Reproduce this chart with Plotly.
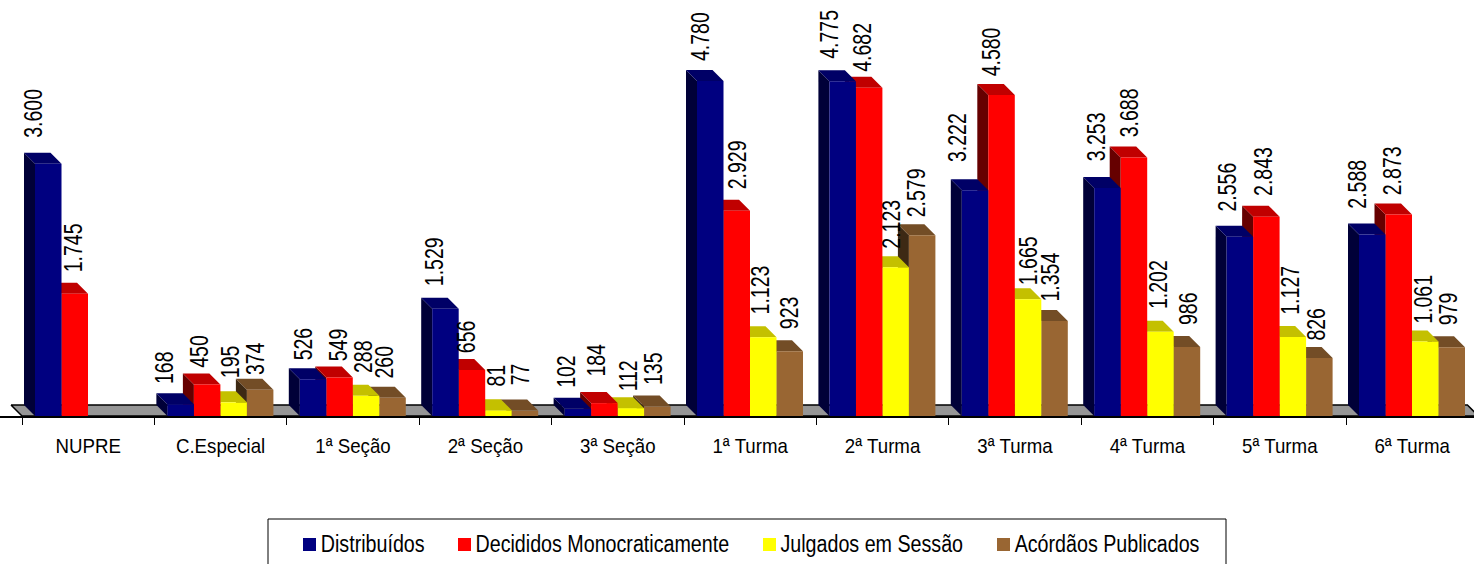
import plotly.graph_objects as go

categories = ['NUPRE', 'C.Especial', '1ª Seção', '2ª Seção', '3ª Seção', '1ª Turma',
              '2ª Turma', '3ª Turma', '4ª Turma', '5ª Turma', '6ª Turma']
distribuidos = [3600, 168, 526, 1529, 102, 4780, 4775, 3222, 3253, 2556, 2588]
decididos = [1745, 450, 549, 656, 184, 2929, 4682, 4580, 3688, 2843, 2873]
julgados = [None, 195, 288, 81, 112, 1123, 2123, 1665, 1202, 1127, 1061]
acordaos = [None, 374, 260, 77, 135, 923, 2579, 1354, 986, 826, 979]
series_names = ['Distribuídos', 'Decididos Monocraticamente', 'Julgados em Sessão', 'Acórdãos Publicados']

# label nudges in px, from the bar's front top left corner (placed by hand in the original)
label_dx = [[-2, 11, 0, 0], [-3, 6, 10, 8], [3, 11, 10, 4], [2, 7, 11, 8], [1, 5, 11, 8], [3, 13, 10, 13],
            [0, 6, 9, 7], [-5, 3, 13, 9], [2, 9, 11, 14], [0, 10, 10, 10], [-2, 6, 11, 10]]
label_dy = [[50, 46, 0, 0], [37, 33, 41, 31], [35, 33, 39, 36], [47, 33, 35, 36], [37, 43, 32, 38], [44, 46, 47, 38],
            [47, 41, 43, 43], [53, 43, 39, 44], [51, 45, 47, 38], [50, 45, 47, 34], [50, 44, 42, 38]]

W, H = 1474, 564
FONT = 'Liberation Sans, Arial, sans-serif'
PX_X = 132.4     # px per category
PX_Y = 0.0701    # px per value
AXIS_LEFT, AXIS_Y = 22, 416
DEPTH_X = 11 / PX_X
DEPTH_Y = 11 / PX_Y
BAR_W = 26.5 / PX_X
GROUP_PAD = 13 / PX_X

series = [distribuidos, decididos, julgados, acordaos]
# front, top, side
colors = [('#000080', '#000066', '#000038'),
          ('#ff0000', '#c00000', '#660000'),
          ('#ffff00', '#c4c000', '#666600'),
          ('#996633', '#734d26', '#3d2914')]

# the original text is horizontally squeezed: no narrow font here, so squeeze per font size
POST_SCRIPT = """
document.body.style.margin = '0';
var squeeze = {'25px': 0.78, '23px': 0.855, '21px': 0.89};
document.querySelectorAll('svg text').forEach(function (t) {
    var k = squeeze[t.style.fontSize];
    if (k && t.textContent) {
        t.setAttribute('textLength', t.getComputedTextLength() * k);
        t.setAttribute('lengthAdjust', 'spacingAndGlyphs');
    }
});
"""


def face(xs, ys, color):
    return go.Scatter(x=xs, y=ys, mode='lines', fill='toself', fillcolor=color,
                      line=dict(width=0, color=color), hoverinfo='skip', showlegend=False)


fig = go.Figure()

# floor of the 3D box
n = len(categories)
fig.add_trace(go.Scatter(x=[-DEPTH_X, 0, n, n - DEPTH_X, -DEPTH_X],
                         y=[DEPTH_Y, 0, 0, DEPTH_Y, DEPTH_Y],
                         mode='lines', fill='toself', fillcolor='#969696',
                         line=dict(width=1.5, color='black'), hoverinfo='skip', showlegend=False))

# draw right to left so each bar covers the side of its right neighbour
annotations = []
for i in range(n - 1, -1, -1):
    for j in range(3, -1, -1):
        v = series[j][i]
        if v is None:
            continue
        left = i + GROUP_PAD + j * BAR_W
        right = left + BAR_W
        front, top, side = colors[j]
        fig.add_trace(face([left, left, left - DEPTH_X, left - DEPTH_X, left],
                           [0, v, v + DEPTH_Y, DEPTH_Y, 0], side))
        fig.add_trace(face([left, right, right - DEPTH_X, left - DEPTH_X, left],
                           [v, v, v + DEPTH_Y, v + DEPTH_Y, v], top))
        fig.add_trace(face([left, right, right, left, left], [0, 0, v, v, 0], front))
        annotations.append(dict(x=left, y=v, xref='x', yref='y', text=f'{v:,}'.replace(',', '.'),
                                showarrow=False, textangle=-90, xanchor='center', yanchor='middle',
                                xshift=label_dx[i][j], yshift=label_dy[i][j],
                                font=dict(size=25, color='black', family=FONT)))

# legend box, open at the bottom edge of the picture
legend_squares = [303, 458, 763, 997]
legend_text_mid = [372.5, 602.5, 872, 1107]
shapes = [dict(type='rect', xref='paper', yref='paper', x0=268 / W, x1=1226 / W,
               y0=-0.02, y1=1 - 519 / H, line=dict(color='black', width=1), fillcolor='white')]
for name, sq, mid, (front, _, _) in zip(series_names, legend_squares, legend_text_mid, colors):
    shapes.append(dict(type='rect', xref='paper', yref='paper', x0=sq / W, x1=(sq + 13) / W,
                       y0=1 - 551 / H, y1=1 - 538 / H, line=dict(width=0), fillcolor=front))
    annotations.append(dict(x=mid / W, y=1 - 544 / H, xref='paper', yref='paper', text=name,
                            showarrow=False, xanchor='center', yanchor='middle',
                            font=dict(size=23, color='black', family=FONT)))

fig.update_layout(
    width=W, height=H, margin=dict(l=0, r=0, t=0, b=0),
    paper_bgcolor='white', plot_bgcolor='white', showlegend=False,
    annotations=annotations, shapes=shapes,
    xaxis=dict(range=[-AXIS_LEFT / PX_X, (W - AXIS_LEFT) / PX_X], showgrid=False, zeroline=False,
               tickmode='array', tickvals=[k + 0.5 for k in range(n)], ticktext=categories,
               ticks='', ticklabelstandoff=10, showline=True, linecolor='black', linewidth=2,
               tickfont=dict(size=21, color='black', family=FONT),
               minor=dict(tickmode='array', tickvals=list(range(n + 1)), ticks='outside',
                          ticklen=7, tickwidth=1, tickcolor='black', showgrid=False)),
    yaxis=dict(domain=[1 - AXIS_Y / H, 1], range=[0, AXIS_Y / PX_Y], visible=False),
)

fig.write_html("out.html", post_script=POST_SCRIPT, config=dict(displayModeBar=False))
